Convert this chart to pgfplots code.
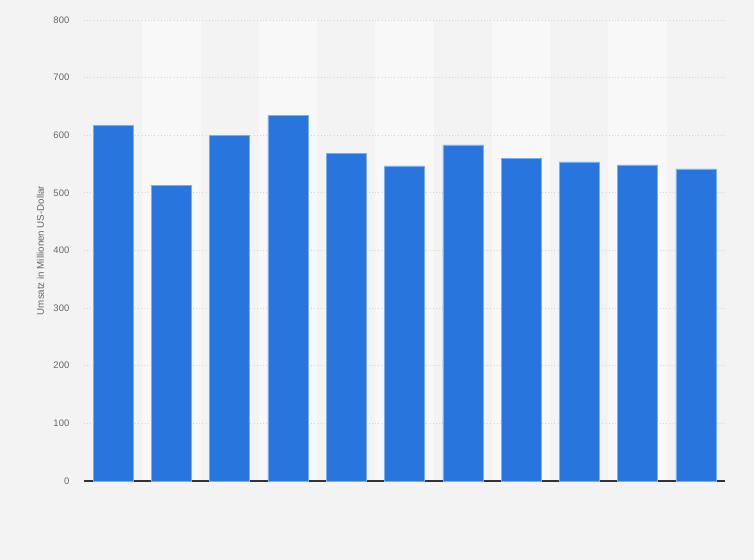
\documentclass[border=0pt]{standalone}
\usepackage{pgfplots}
\pgfplotsset{compat=1.18}
\usepackage{fontspec}
\setmainfont{Liberation Sans}
\definecolor{bg}{HTML}{F3F3F3}
\definecolor{band}{HTML}{F8F8F8}
\definecolor{barblue}{HTML}{2876DD}
\definecolor{txt}{HTML}{666666}
\definecolor{gridc}{HTML}{D4D4D4}
\begin{document}
\begin{tikzpicture}[x=1pt,y=1pt]
\begin{axis}[
  at={(63pt,59.25pt)}, anchor=south west,
  scale only axis, width=480.75pt, height=345.75pt,
  set layers,
  xmin=-0.5, xmax=10.5, ymin=0, ymax=800,
  ybar, bar width=30pt, bar shift=0pt,
  axis lines*=left,
  x axis line style={draw=black!80, line width=0.8pt, -},
  y axis line style={draw=none},
  xtick=\empty,
  ytick={0,100,...,800},
  ymajorgrids, grid style={gridc, dotted, line width=0.6pt},
  major tick length=0pt,
  yticklabel style={font=\fontsize{7.1}{9}\selectfont, text=txt, xshift=-7.5pt},
  /pgf/number format/assume math mode=true,
  ylabel={Umsatz in Millionen US-Dollar},
  ylabel style={font=\fontsize{7.3}{9}\selectfont, text=txt, at={(axis description cs:-0.055,0.5)}, anchor=south},
  clip=false,
]
\begin{pgfonlayer}{axis background}
\fill[bg] ([shift={(-63pt,-59.25pt)}]rel axis cs:0,0) rectangle ([shift={(21.75pt,15pt)}]rel axis cs:1,1);
\pgfplotsinvokeforeach{0.5,2.5,4.5,6.5,8.5}{
  \fill[band] (axis cs:#1,0) rectangle (axis cs:#1+1,800);
}
\end{pgfonlayer}
\addplot[fill=barblue, draw=barblue!60!white, line width=0.4pt] coordinates {
(0,617.5) (1,513) (2,600) (3,635) (4,569) (5,547) (6,583.3) (7,560) (8,553.8) (9,548.6) (10,541.7)
};
\end{axis}
\end{tikzpicture}
\end{document}
